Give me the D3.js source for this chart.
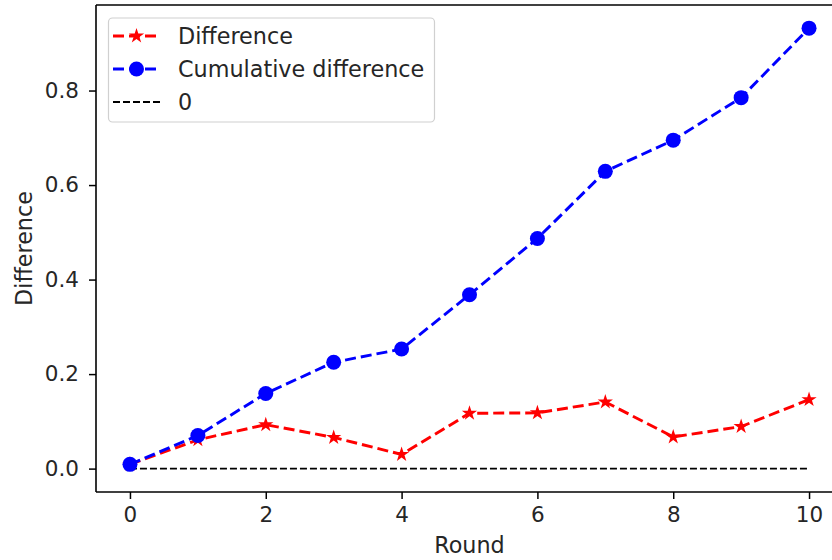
<!DOCTYPE html>
<html><head><meta charset="utf-8">
<script src="https://cdn.jsdelivr.net/npm/d3@7"></script>
<style>body{margin:0;background:#fff}svg{display:block}text{font-family:"DejaVu Sans",sans-serif;fill:#262626}</style>
</head><body><svg id="c" width="832" height="560"></svg>
<script>
const rounds = [0,1,2,3,4,5,6,7,8,9,10];
const difference = [0.009,0.061,0.093,0.066,0.030,0.117,0.118,0.141,0.067,0.089,0.146];
const cumulative = [0.009,0.070,0.159,0.225,0.253,0.368,0.487,0.629,0.695,0.785,0.932];
const zeroLine = [0,0,0,0,0,0,0,0,0,0,0];
const xTicks = [0,2,4,6,8,10];
const yTicks = [0.0,0.2,0.4,0.6,0.8];
const legendLabels = ["Difference","Cumulative difference","0"];

const svg = d3.select("#c");
const L=96, T=5, R=843, B=492;
const x = d3.scaleLinear().domain([-0.5,10.5]).range([L,R]);
const y = d3.scaleLinear().domain([-0.0495,0.981]).range([B,T]);
const fs = 21.5, fl = 22.3;

// axes
const xa = svg.append("g").attr("transform",`translate(0,${B})`)
  .call(d3.axisBottom(x).tickValues(xTicks).tickFormat(d3.format("d")).tickSize(7).tickPadding(8));
const ya = svg.append("g").attr("transform",`translate(${L},0)`)
  .call(d3.axisLeft(y).tickValues(yTicks).tickFormat(d3.format(".1f")).tickSize(7).tickPadding(10));
[xa,ya].forEach(a=>{
  a.select(".domain").remove();
  a.selectAll("line").attr("stroke","#000").attr("stroke-width",1.5);
  a.selectAll("text").attr("font-size",fs).attr("font-family","DejaVu Sans").attr("fill","#262626");
});
// spines
svg.append("line").attr("x1",L).attr("x2",L).attr("y1",T).attr("y2",B).attr("stroke","#000").attr("stroke-width",1.6);
svg.append("line").attr("x1",L).attr("x2",R).attr("y1",B).attr("y2",B).attr("stroke","#000").attr("stroke-width",1.6);
svg.append("line").attr("x1",L).attr("x2",R).attr("y1",T).attr("y2",T).attr("stroke","#000").attr("stroke-width",1.6);

// labels
svg.append("text").attr("x",(L+R)/2).attr("y",553).attr("text-anchor","middle").attr("font-size",fl).text("Round");
svg.append("text").attr("transform",`translate(32,${(T+B)/2}) rotate(-90)`).attr("text-anchor","middle").attr("font-size",fl).text("Difference");

const line = d3.line().x((d,i)=>x(rounds[i])).y(d=>y(d));
// zero line
svg.append("path").datum(zeroLine).attr("d",line).attr("fill","none").attr("stroke","#000").attr("stroke-width",1.9).attr("stroke-dasharray","7,3");
// difference
svg.append("path").datum(difference).attr("d",line).attr("fill","none").attr("stroke","#ff0000").attr("stroke-width",2.9).attr("stroke-dasharray","11,5");
const star = d3.symbol().type(d3.symbolStar).size(72);
svg.append("g").selectAll("path").data(difference).join("path")
  .attr("d",star).attr("transform",(d,i)=>`translate(${x(rounds[i])},${y(d)})`).attr("fill","#ff0000");
// cumulative
svg.append("path").datum(cumulative).attr("d",line).attr("fill","none").attr("stroke","#0000ff").attr("stroke-width",2.9).attr("stroke-dasharray","11,5");
svg.append("g").selectAll("circle").data(cumulative).join("circle")
  .attr("cx",(d,i)=>x(rounds[i])).attr("cy",d=>y(d)).attr("r",7.5).attr("fill","#0000ff");

// legend
const lg = svg.append("g");
lg.append("rect").attr("x",108.5).attr("y",18).attr("width",326).attr("height",104).attr("rx",4)
  .attr("fill","#fff").attr("fill-opacity",0.8).attr("stroke","#d0d0d0").attr("stroke-width",1.2);
const rowsY=[36,69,102];
const styles=[{c:"#ff0000",w:2.9,da:"11,5",m:"star"},{c:"#0000ff",w:2.9,da:"11,5",m:"circle"},{c:"#000",w:1.9,da:"7,3",m:null}];
legendLabels.forEach((lab,i)=>{
  const s=styles[i], yy=rowsY[i];
  lg.append("line").attr("x1",113).attr("x2",160).attr("y1",yy).attr("y2",yy).attr("stroke",s.c).attr("stroke-width",s.w).attr("stroke-dasharray",s.da);
  if(s.m==="star") lg.append("path").attr("d",star).attr("transform",`translate(136.5,${yy})`).attr("fill",s.c);
  if(s.m==="circle") lg.append("circle").attr("cx",136.5).attr("cy",yy).attr("r",7.5).attr("fill",s.c);
  lg.append("text").attr("x",178).attr("y",yy).attr("dy","0.35em").attr("font-size",fl).text(lab);
});
</script></body></html>
